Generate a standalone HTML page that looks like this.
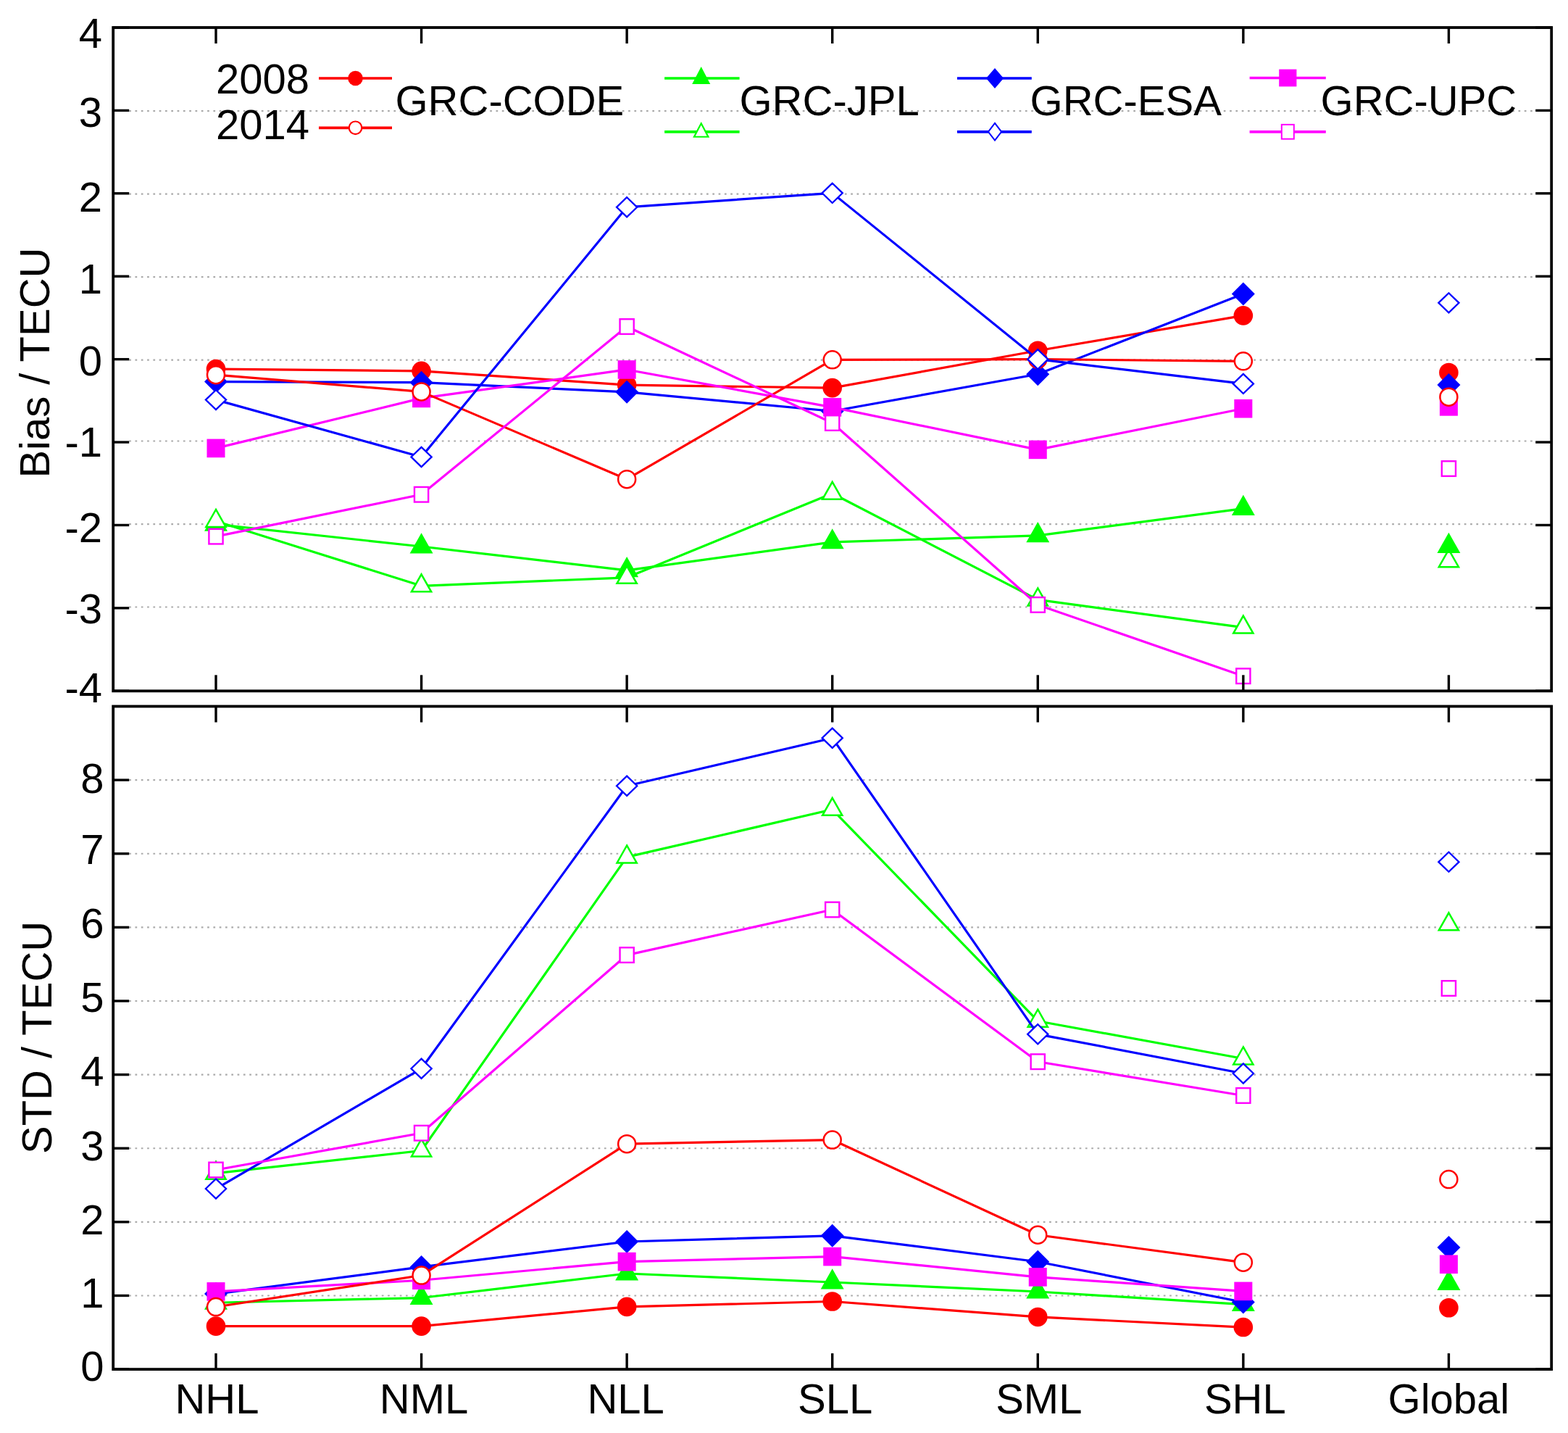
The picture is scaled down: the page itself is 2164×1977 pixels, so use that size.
<!DOCTYPE html>
<html><head><meta charset="utf-8"><title>Bias and STD of GIM differences</title><style>html,body{margin:0;padding:0;background:#fff;overflow:hidden;}svg{display:block;}text{font-family:"Liberation Sans",Arial,Helvetica,sans-serif;fill:#000;font-size:58px;}</style></head><body>
<svg width="2164" height="1977" viewBox="0 0 2164 1977">
<rect width="2164" height="1977" fill="#fff"/>
<line x1="178.2" y1="837.5" x2="2119.2" y2="837.5" stroke="#ababab" stroke-width="2.2" stroke-dasharray="2.7 5.6"/>
<line x1="178.2" y1="723.1" x2="2119.2" y2="723.1" stroke="#ababab" stroke-width="2.2" stroke-dasharray="2.7 5.6"/>
<line x1="178.2" y1="608.5" x2="2119.2" y2="608.5" stroke="#ababab" stroke-width="2.2" stroke-dasharray="2.7 5.6"/>
<line x1="178.2" y1="496.6" x2="2119.2" y2="496.6" stroke="#ababab" stroke-width="2.2" stroke-dasharray="2.7 5.6"/>
<line x1="178.2" y1="382.2" x2="2119.2" y2="382.2" stroke="#ababab" stroke-width="2.2" stroke-dasharray="2.7 5.6"/>
<line x1="178.2" y1="267.6" x2="2119.2" y2="267.6" stroke="#ababab" stroke-width="2.2" stroke-dasharray="2.7 5.6"/>
<line x1="178.2" y1="153.1" x2="2119.2" y2="153.1" stroke="#ababab" stroke-width="2.2" stroke-dasharray="2.7 5.6"/>
<polyline points="297.99,509.04 581.56,511.78 865.13,531.12 1148.7,535.12 1432.27,483.75 1715.84,435.35" fill="none" stroke="#ff0000" stroke-width="3.2" stroke-linejoin="round"/>
<circle cx="297.99" cy="509.04" r="13.3" fill="#ff0000"/>
<circle cx="581.56" cy="511.78" r="13.3" fill="#ff0000"/>
<circle cx="865.13" cy="531.12" r="13.3" fill="#ff0000"/>
<circle cx="1148.7" cy="535.12" r="13.3" fill="#ff0000"/>
<circle cx="1432.27" cy="483.75" r="13.3" fill="#ff0000"/>
<circle cx="1715.84" cy="435.35" r="13.3" fill="#ff0000"/>
<polyline points="297.99,723.33 581.56,753.99 865.13,786.83 1148.7,747.93 1432.27,738.89 1715.84,701.59" fill="none" stroke="#00ff00" stroke-width="3.2" stroke-linejoin="round"/>
<polygon points="297.99,704.53 313.97,732.73 282.01,732.73" fill="#00ff00"/>
<polygon points="581.56,735.19 597.54,763.39 565.58,763.39" fill="#00ff00"/>
<polygon points="865.13,768.03 881.11,796.23 849.15,796.23" fill="#00ff00"/>
<polygon points="1148.7,729.13 1164.68,757.33 1132.72,757.33" fill="#00ff00"/>
<polygon points="1432.27,720.09 1448.25,748.29 1416.29,748.29" fill="#00ff00"/>
<polygon points="1715.84,682.79 1731.82,710.99 1699.86,710.99" fill="#00ff00"/>
<polyline points="297.99,526.54 581.56,527.69 865.13,540.84 1148.7,567.27 1432.27,516.24 1715.84,405.49" fill="none" stroke="#0000ff" stroke-width="3.2" stroke-linejoin="round"/>
<polygon points="297.99,510.54 313.99,526.54 297.99,542.54 281.99,526.54" fill="#0000ff"/>
<polygon points="581.56,511.69 597.56,527.69 581.56,543.69 565.56,527.69" fill="#0000ff"/>
<polygon points="865.13,524.84 881.13,540.84 865.13,556.84 849.13,540.84" fill="#0000ff"/>
<polygon points="1148.7,551.27 1164.7,567.27 1148.7,583.27 1132.7,567.27" fill="#0000ff"/>
<polygon points="1432.27,500.24 1448.27,516.24 1432.27,532.24 1416.27,516.24" fill="#0000ff"/>
<polygon points="1715.84,389.49 1731.84,405.49 1715.84,421.49 1699.84,405.49" fill="#0000ff"/>
<polyline points="297.99,618.41 581.56,549.42 865.13,509.95 1148.7,561.89 1432.27,620.36 1715.84,563.73" fill="none" stroke="#ff00ff" stroke-width="3.2" stroke-linejoin="round"/>
<rect x="285.49" y="605.61" width="25" height="25.6" fill="#ff00ff"/>
<rect x="569.06" y="536.62" width="25" height="25.6" fill="#ff00ff"/>
<rect x="852.63" y="497.15" width="25" height="25.6" fill="#ff00ff"/>
<rect x="1136.2" y="549.09" width="25" height="25.6" fill="#ff00ff"/>
<rect x="1419.77" y="607.56" width="25" height="25.6" fill="#ff00ff"/>
<rect x="1703.34" y="550.93" width="25" height="25.6" fill="#ff00ff"/>
<polyline points="297.99,517.16 581.56,540.39 865.13,661.2 1148.7,496.34 1432.27,495.65 1715.84,498.28" fill="none" stroke="#ff0000" stroke-width="3.2" stroke-linejoin="round"/>
<circle cx="297.99" cy="517.16" r="12" fill="#fff" stroke="#ff0000" stroke-width="2.5"/>
<circle cx="581.56" cy="540.39" r="12" fill="#fff" stroke="#ff0000" stroke-width="2.5"/>
<circle cx="865.13" cy="661.2" r="12" fill="#fff" stroke="#ff0000" stroke-width="2.5"/>
<circle cx="1148.7" cy="496.34" r="12" fill="#fff" stroke="#ff0000" stroke-width="2.5"/>
<circle cx="1432.27" cy="495.65" r="12" fill="#fff" stroke="#ff0000" stroke-width="2.5"/>
<circle cx="1715.84" cy="498.28" r="12" fill="#fff" stroke="#ff0000" stroke-width="2.5"/>
<polyline points="297.99,718.98 581.56,808.34 865.13,796.78 1148.7,680.77 1432.27,827.45 1715.84,865.55" fill="none" stroke="#00ff00" stroke-width="3.2" stroke-linejoin="round"/>
<polygon points="297.99,702.98 311.59,726.98 284.39,726.98" fill="#fff" stroke="#00ff00" stroke-width="2.5"/>
<polygon points="581.56,792.34 595.16,816.34 567.96,816.34" fill="#fff" stroke="#00ff00" stroke-width="2.5"/>
<polygon points="865.13,780.78 878.73,804.78 851.53,804.78" fill="#fff" stroke="#00ff00" stroke-width="2.5"/>
<polygon points="1148.7,664.77 1162.3,688.77 1135.1,688.77" fill="#fff" stroke="#00ff00" stroke-width="2.5"/>
<polygon points="1432.27,811.45 1445.87,835.45 1418.67,835.45" fill="#fff" stroke="#00ff00" stroke-width="2.5"/>
<polygon points="1715.84,849.55 1729.44,873.55 1702.24,873.55" fill="#fff" stroke="#00ff00" stroke-width="2.5"/>
<polyline points="297.99,551.6 581.56,630.43 865.13,285.82 1148.7,266.37 1432.27,495.65 1715.84,529.4" fill="none" stroke="#0000ff" stroke-width="3.2" stroke-linejoin="round"/>
<polygon points="297.99,538 312.09,551.6 297.99,565.2 283.89,551.6" fill="#fff" stroke="#0000ff" stroke-width="2.3"/>
<polygon points="581.56,616.83 595.66,630.43 581.56,644.03 567.46,630.43" fill="#fff" stroke="#0000ff" stroke-width="2.3"/>
<polygon points="865.13,272.22 879.23,285.82 865.13,299.42 851.03,285.82" fill="#fff" stroke="#0000ff" stroke-width="2.3"/>
<polygon points="1148.7,252.77 1162.8,266.37 1148.7,279.97 1134.6,266.37" fill="#fff" stroke="#0000ff" stroke-width="2.3"/>
<polygon points="1432.27,482.05 1446.37,495.65 1432.27,509.25 1418.17,495.65" fill="#fff" stroke="#0000ff" stroke-width="2.3"/>
<polygon points="1715.84,515.8 1729.94,529.4 1715.84,543 1701.74,529.4" fill="#fff" stroke="#0000ff" stroke-width="2.3"/>
<polyline points="297.99,740.15 581.56,682.26 865.13,450.57 1148.7,583.52 1432.27,834.43 1715.84,932.71" fill="none" stroke="#ff00ff" stroke-width="3.2" stroke-linejoin="round"/>
<rect x="288.39" y="729.85" width="19.2" height="20.6" fill="#fff" stroke="#ff00ff" stroke-width="2.4"/>
<rect x="571.96" y="671.96" width="19.2" height="20.6" fill="#fff" stroke="#ff00ff" stroke-width="2.4"/>
<rect x="855.53" y="440.27" width="19.2" height="20.6" fill="#fff" stroke="#ff00ff" stroke-width="2.4"/>
<rect x="1139.1" y="573.22" width="19.2" height="20.6" fill="#fff" stroke="#ff00ff" stroke-width="2.4"/>
<rect x="1422.67" y="824.13" width="19.2" height="20.6" fill="#fff" stroke="#ff00ff" stroke-width="2.4"/>
<rect x="1706.24" y="922.41" width="19.2" height="20.6" fill="#fff" stroke="#ff00ff" stroke-width="2.4"/>
<circle cx="1999.41" cy="513.96" r="13.3" fill="#ff0000"/>
<polygon points="1999.41,758.24 2013.01,782.24 1985.81,782.24" fill="#fff" stroke="#00ff00" stroke-width="2.5"/>
<polygon points="1999.41,404.25 2013.51,417.85 1999.41,431.45 1985.31,417.85" fill="#fff" stroke="#0000ff" stroke-width="2.3"/>
<rect x="1989.81" y="636.26" width="19.2" height="20.6" fill="#fff" stroke="#ff00ff" stroke-width="2.4"/>
<polygon points="1999.41,515 2015.41,531 1999.41,547 1983.41,531" fill="#0000ff"/>
<polygon points="1999.41,734.74 2015.39,762.94 1983.43,762.94" fill="#00ff00"/>
<rect x="1986.91" y="548.07" width="25" height="25.6" fill="#ff00ff"/>
<circle cx="1999.41" cy="547.71" r="12" fill="#fff" stroke="#ff0000" stroke-width="2.5"/>
<rect x="156.2" y="38" width="1985" height="915.3" fill="none" stroke="#000" stroke-width="3.8"/>
<line x1="297.99" y1="38" x2="297.99" y2="60" stroke="#000" stroke-width="3.4"/>
<line x1="297.99" y1="953.3" x2="297.99" y2="931.3" stroke="#000" stroke-width="3.4"/>
<line x1="581.56" y1="38" x2="581.56" y2="60" stroke="#000" stroke-width="3.4"/>
<line x1="581.56" y1="953.3" x2="581.56" y2="931.3" stroke="#000" stroke-width="3.4"/>
<line x1="865.13" y1="38" x2="865.13" y2="60" stroke="#000" stroke-width="3.4"/>
<line x1="865.13" y1="953.3" x2="865.13" y2="931.3" stroke="#000" stroke-width="3.4"/>
<line x1="1148.7" y1="38" x2="1148.7" y2="60" stroke="#000" stroke-width="3.4"/>
<line x1="1148.7" y1="953.3" x2="1148.7" y2="931.3" stroke="#000" stroke-width="3.4"/>
<line x1="1432.27" y1="38" x2="1432.27" y2="60" stroke="#000" stroke-width="3.4"/>
<line x1="1432.27" y1="953.3" x2="1432.27" y2="931.3" stroke="#000" stroke-width="3.4"/>
<line x1="1715.84" y1="38" x2="1715.84" y2="60" stroke="#000" stroke-width="3.4"/>
<line x1="1715.84" y1="953.3" x2="1715.84" y2="931.3" stroke="#000" stroke-width="3.4"/>
<line x1="1999.41" y1="38" x2="1999.41" y2="60" stroke="#000" stroke-width="3.4"/>
<line x1="1999.41" y1="953.3" x2="1999.41" y2="931.3" stroke="#000" stroke-width="3.4"/>
<line x1="156.2" y1="953.3" x2="178.2" y2="953.3" stroke="#000" stroke-width="3.4"/>
<line x1="2141.2" y1="953.3" x2="2119.2" y2="953.3" stroke="#000" stroke-width="3.4"/>
<line x1="156.2" y1="838.89" x2="178.2" y2="838.89" stroke="#000" stroke-width="3.4"/>
<line x1="2141.2" y1="838.89" x2="2119.2" y2="838.89" stroke="#000" stroke-width="3.4"/>
<line x1="156.2" y1="724.47" x2="178.2" y2="724.47" stroke="#000" stroke-width="3.4"/>
<line x1="2141.2" y1="724.47" x2="2119.2" y2="724.47" stroke="#000" stroke-width="3.4"/>
<line x1="156.2" y1="610.06" x2="178.2" y2="610.06" stroke="#000" stroke-width="3.4"/>
<line x1="2141.2" y1="610.06" x2="2119.2" y2="610.06" stroke="#000" stroke-width="3.4"/>
<line x1="156.2" y1="495.65" x2="178.2" y2="495.65" stroke="#000" stroke-width="3.4"/>
<line x1="2141.2" y1="495.65" x2="2119.2" y2="495.65" stroke="#000" stroke-width="3.4"/>
<line x1="156.2" y1="381.24" x2="178.2" y2="381.24" stroke="#000" stroke-width="3.4"/>
<line x1="2141.2" y1="381.24" x2="2119.2" y2="381.24" stroke="#000" stroke-width="3.4"/>
<line x1="156.2" y1="266.82" x2="178.2" y2="266.82" stroke="#000" stroke-width="3.4"/>
<line x1="2141.2" y1="266.82" x2="2119.2" y2="266.82" stroke="#000" stroke-width="3.4"/>
<line x1="156.2" y1="152.41" x2="178.2" y2="152.41" stroke="#000" stroke-width="3.4"/>
<line x1="2141.2" y1="152.41" x2="2119.2" y2="152.41" stroke="#000" stroke-width="3.4"/>
<line x1="156.2" y1="38" x2="178.2" y2="38" stroke="#000" stroke-width="3.4"/>
<line x1="2141.2" y1="38" x2="2119.2" y2="38" stroke="#000" stroke-width="3.4"/>
<text x="141" y="968.8" text-anchor="end">-4</text>
<text x="141" y="859.5" text-anchor="end">-3</text>
<text x="141" y="747.5" text-anchor="end">-2</text>
<text x="141" y="629.5" text-anchor="end">-1</text>
<text x="141" y="518.1" text-anchor="end">0</text>
<text x="141" y="404.9" text-anchor="end">1</text>
<text x="141" y="291.6" text-anchor="end">2</text>
<text x="141" y="174.8" text-anchor="end">3</text>
<text x="141" y="65.6" text-anchor="end">4</text>
<text transform="translate(68.4 500.6) rotate(-90)" text-anchor="middle">Bias / TECU</text>
<line x1="178.2" y1="1787.48" x2="2119.2" y2="1787.48" stroke="#ababab" stroke-width="2.2" stroke-dasharray="2.7 5.6"/>
<line x1="178.2" y1="1685.86" x2="2119.2" y2="1685.86" stroke="#ababab" stroke-width="2.2" stroke-dasharray="2.7 5.6"/>
<line x1="178.2" y1="1584.23" x2="2119.2" y2="1584.23" stroke="#ababab" stroke-width="2.2" stroke-dasharray="2.7 5.6"/>
<line x1="178.2" y1="1482.61" x2="2119.2" y2="1482.61" stroke="#ababab" stroke-width="2.2" stroke-dasharray="2.7 5.6"/>
<line x1="178.2" y1="1380.99" x2="2119.2" y2="1380.99" stroke="#ababab" stroke-width="2.2" stroke-dasharray="2.7 5.6"/>
<line x1="178.2" y1="1279.37" x2="2119.2" y2="1279.37" stroke="#ababab" stroke-width="2.2" stroke-dasharray="2.7 5.6"/>
<line x1="178.2" y1="1177.74" x2="2119.2" y2="1177.74" stroke="#ababab" stroke-width="2.2" stroke-dasharray="2.7 5.6"/>
<line x1="178.2" y1="1076.12" x2="2119.2" y2="1076.12" stroke="#ababab" stroke-width="2.2" stroke-dasharray="2.7 5.6"/>
<polyline points="297.99,1829.65 581.56,1829.65 865.13,1802.92 1148.7,1795.51 1432.27,1816.95 1715.84,1831.07" fill="none" stroke="#ff0000" stroke-width="3.2" stroke-linejoin="round"/>
<circle cx="297.99" cy="1829.65" r="13.3" fill="#ff0000"/>
<circle cx="581.56" cy="1829.65" r="13.3" fill="#ff0000"/>
<circle cx="865.13" cy="1802.92" r="13.3" fill="#ff0000"/>
<circle cx="1148.7" cy="1795.51" r="13.3" fill="#ff0000"/>
<circle cx="1432.27" cy="1816.95" r="13.3" fill="#ff0000"/>
<circle cx="1715.84" cy="1831.07" r="13.3" fill="#ff0000"/>
<polyline points="297.99,1797.23 581.56,1790.53 865.13,1756.99 1148.7,1768.98 1432.27,1781.99 1715.84,1799.67" fill="none" stroke="#00ff00" stroke-width="3.2" stroke-linejoin="round"/>
<polygon points="297.99,1778.43 313.97,1806.63 282.01,1806.63" fill="#00ff00"/>
<polygon points="581.56,1771.73 597.54,1799.93 565.58,1799.93" fill="#00ff00"/>
<polygon points="865.13,1738.19 881.11,1766.39 849.15,1766.39" fill="#00ff00"/>
<polygon points="1148.7,1750.18 1164.68,1778.38 1132.72,1778.38" fill="#00ff00"/>
<polygon points="1432.27,1763.19 1448.25,1791.39 1416.29,1791.39" fill="#00ff00"/>
<polygon points="1715.84,1780.87 1731.82,1809.07 1699.86,1809.07" fill="#00ff00"/>
<polyline points="297.99,1785.04 581.56,1747.95 865.13,1712.99 1148.7,1704.86 1432.27,1740.73 1715.84,1796.52" fill="none" stroke="#0000ff" stroke-width="3.2" stroke-linejoin="round"/>
<polygon points="297.99,1769.04 313.99,1785.04 297.99,1801.04 281.99,1785.04" fill="#0000ff"/>
<polygon points="581.56,1731.95 597.56,1747.95 581.56,1763.95 565.56,1747.95" fill="#0000ff"/>
<polygon points="865.13,1696.99 881.13,1712.99 865.13,1728.99 849.13,1712.99" fill="#0000ff"/>
<polygon points="1148.7,1688.86 1164.7,1704.86 1148.7,1720.86 1132.7,1704.86" fill="#0000ff"/>
<polygon points="1432.27,1724.73 1448.27,1740.73 1432.27,1756.73 1416.27,1740.73" fill="#0000ff"/>
<polygon points="1715.84,1780.52 1731.84,1796.52 1715.84,1812.52 1699.84,1796.52" fill="#0000ff"/>
<polyline points="297.99,1781.89 581.56,1766.24 865.13,1740.63 1148.7,1733.62 1432.27,1761.87 1715.84,1781.38" fill="none" stroke="#ff00ff" stroke-width="3.2" stroke-linejoin="round"/>
<rect x="285.49" y="1769.09" width="25" height="25.6" fill="#ff00ff"/>
<rect x="569.06" y="1753.44" width="25" height="25.6" fill="#ff00ff"/>
<rect x="852.63" y="1727.83" width="25" height="25.6" fill="#ff00ff"/>
<rect x="1136.2" y="1720.82" width="25" height="25.6" fill="#ff00ff"/>
<rect x="1419.77" y="1749.07" width="25" height="25.6" fill="#ff00ff"/>
<rect x="1703.34" y="1768.58" width="25" height="25.6" fill="#ff00ff"/>
<polyline points="297.99,1803.03 581.56,1759.53 865.13,1578.14 1148.7,1572.55 1432.27,1703.74 1715.84,1741.65" fill="none" stroke="#ff0000" stroke-width="3.2" stroke-linejoin="round"/>
<circle cx="297.99" cy="1803.03" r="12" fill="#fff" stroke="#ff0000" stroke-width="2.5"/>
<circle cx="581.56" cy="1759.53" r="12" fill="#fff" stroke="#ff0000" stroke-width="2.5"/>
<circle cx="865.13" cy="1578.14" r="12" fill="#fff" stroke="#ff0000" stroke-width="2.5"/>
<circle cx="1148.7" cy="1572.55" r="12" fill="#fff" stroke="#ff0000" stroke-width="2.5"/>
<circle cx="1432.27" cy="1703.74" r="12" fill="#fff" stroke="#ff0000" stroke-width="2.5"/>
<circle cx="1715.84" cy="1741.65" r="12" fill="#fff" stroke="#ff0000" stroke-width="2.5"/>
<polyline points="297.99,1618.68 581.56,1587.49 865.13,1182.42 1148.7,1116.77 1432.27,1408.73 1715.84,1460.46" fill="none" stroke="#00ff00" stroke-width="3.2" stroke-linejoin="round"/>
<polygon points="297.99,1602.68 311.59,1626.68 284.39,1626.68" fill="#fff" stroke="#00ff00" stroke-width="2.5"/>
<polygon points="581.56,1571.49 595.16,1595.49 567.96,1595.49" fill="#fff" stroke="#00ff00" stroke-width="2.5"/>
<polygon points="865.13,1166.42 878.73,1190.42 851.53,1190.42" fill="#fff" stroke="#00ff00" stroke-width="2.5"/>
<polygon points="1148.7,1100.77 1162.3,1124.77 1135.1,1124.77" fill="#fff" stroke="#00ff00" stroke-width="2.5"/>
<polygon points="1432.27,1392.73 1445.87,1416.73 1418.67,1416.73" fill="#fff" stroke="#00ff00" stroke-width="2.5"/>
<polygon points="1715.84,1444.46 1729.44,1468.46 1702.24,1468.46" fill="#fff" stroke="#00ff00" stroke-width="2.5"/>
<polyline points="297.99,1640.02 581.56,1474.28 865.13,1084.25 1148.7,1018.2 1432.27,1426.82 1715.84,1480.99" fill="none" stroke="#0000ff" stroke-width="3.2" stroke-linejoin="round"/>
<polygon points="297.99,1626.42 312.09,1640.02 297.99,1653.62 283.89,1640.02" fill="#fff" stroke="#0000ff" stroke-width="2.3"/>
<polygon points="581.56,1460.68 595.66,1474.28 581.56,1487.88 567.46,1474.28" fill="#fff" stroke="#0000ff" stroke-width="2.3"/>
<polygon points="865.13,1070.65 879.23,1084.25 865.13,1097.85 851.03,1084.25" fill="#fff" stroke="#0000ff" stroke-width="2.3"/>
<polygon points="1148.7,1004.6 1162.8,1018.2 1148.7,1031.8 1134.6,1018.2" fill="#fff" stroke="#0000ff" stroke-width="2.3"/>
<polygon points="1432.27,1413.22 1446.37,1426.82 1432.27,1440.42 1418.17,1426.82" fill="#fff" stroke="#0000ff" stroke-width="2.3"/>
<polygon points="1715.84,1467.39 1729.94,1480.99 1715.84,1494.59 1701.74,1480.99" fill="#fff" stroke="#0000ff" stroke-width="2.3"/>
<polyline points="297.99,1614.01 581.56,1563.2 865.13,1317.58 1148.7,1254.98 1432.27,1464.73 1715.84,1511.47" fill="none" stroke="#ff00ff" stroke-width="3.2" stroke-linejoin="round"/>
<rect x="288.39" y="1603.71" width="19.2" height="20.6" fill="#fff" stroke="#ff00ff" stroke-width="2.4"/>
<rect x="571.96" y="1552.9" width="19.2" height="20.6" fill="#fff" stroke="#ff00ff" stroke-width="2.4"/>
<rect x="855.53" y="1307.28" width="19.2" height="20.6" fill="#fff" stroke="#ff00ff" stroke-width="2.4"/>
<rect x="1139.1" y="1244.68" width="19.2" height="20.6" fill="#fff" stroke="#ff00ff" stroke-width="2.4"/>
<rect x="1422.67" y="1454.43" width="19.2" height="20.6" fill="#fff" stroke="#ff00ff" stroke-width="2.4"/>
<rect x="1706.24" y="1501.17" width="19.2" height="20.6" fill="#fff" stroke="#ff00ff" stroke-width="2.4"/>
<circle cx="1999.41" cy="1804.25" r="13.3" fill="#ff0000"/>
<polygon points="1999.41,1259.3 2013.01,1283.3 1985.81,1283.3" fill="#fff" stroke="#00ff00" stroke-width="2.5"/>
<polygon points="1999.41,1175.53 2013.51,1189.13 1999.41,1202.73 1985.31,1189.13" fill="#fff" stroke="#0000ff" stroke-width="2.3"/>
<rect x="1989.81" y="1353.21" width="19.2" height="20.6" fill="#fff" stroke="#ff00ff" stroke-width="2.4"/>
<polygon points="1999.41,1705.02 2015.41,1721.02 1999.41,1737.02 1983.41,1721.02" fill="#0000ff"/>
<polygon points="1999.41,1751.71 2015.39,1779.91 1983.43,1779.91" fill="#00ff00"/>
<rect x="1986.91" y="1731.49" width="25" height="25.6" fill="#ff00ff"/>
<circle cx="1999.41" cy="1627.12" r="12" fill="#fff" stroke="#ff0000" stroke-width="2.5"/>
<rect x="156.2" y="974.5" width="1985" height="914.6" fill="none" stroke="#000" stroke-width="3.8"/>
<line x1="297.99" y1="974.5" x2="297.99" y2="996.5" stroke="#000" stroke-width="3.4"/>
<line x1="297.99" y1="1889.1" x2="297.99" y2="1867.1" stroke="#000" stroke-width="3.4"/>
<line x1="581.56" y1="974.5" x2="581.56" y2="996.5" stroke="#000" stroke-width="3.4"/>
<line x1="581.56" y1="1889.1" x2="581.56" y2="1867.1" stroke="#000" stroke-width="3.4"/>
<line x1="865.13" y1="974.5" x2="865.13" y2="996.5" stroke="#000" stroke-width="3.4"/>
<line x1="865.13" y1="1889.1" x2="865.13" y2="1867.1" stroke="#000" stroke-width="3.4"/>
<line x1="1148.7" y1="974.5" x2="1148.7" y2="996.5" stroke="#000" stroke-width="3.4"/>
<line x1="1148.7" y1="1889.1" x2="1148.7" y2="1867.1" stroke="#000" stroke-width="3.4"/>
<line x1="1432.27" y1="974.5" x2="1432.27" y2="996.5" stroke="#000" stroke-width="3.4"/>
<line x1="1432.27" y1="1889.1" x2="1432.27" y2="1867.1" stroke="#000" stroke-width="3.4"/>
<line x1="1715.84" y1="974.5" x2="1715.84" y2="996.5" stroke="#000" stroke-width="3.4"/>
<line x1="1715.84" y1="1889.1" x2="1715.84" y2="1867.1" stroke="#000" stroke-width="3.4"/>
<line x1="1999.41" y1="974.5" x2="1999.41" y2="996.5" stroke="#000" stroke-width="3.4"/>
<line x1="1999.41" y1="1889.1" x2="1999.41" y2="1867.1" stroke="#000" stroke-width="3.4"/>
<line x1="156.2" y1="1889.1" x2="178.2" y2="1889.1" stroke="#000" stroke-width="3.4"/>
<line x1="2141.2" y1="1889.1" x2="2119.2" y2="1889.1" stroke="#000" stroke-width="3.4"/>
<line x1="156.2" y1="1787.48" x2="178.2" y2="1787.48" stroke="#000" stroke-width="3.4"/>
<line x1="2141.2" y1="1787.48" x2="2119.2" y2="1787.48" stroke="#000" stroke-width="3.4"/>
<line x1="156.2" y1="1685.86" x2="178.2" y2="1685.86" stroke="#000" stroke-width="3.4"/>
<line x1="2141.2" y1="1685.86" x2="2119.2" y2="1685.86" stroke="#000" stroke-width="3.4"/>
<line x1="156.2" y1="1584.23" x2="178.2" y2="1584.23" stroke="#000" stroke-width="3.4"/>
<line x1="2141.2" y1="1584.23" x2="2119.2" y2="1584.23" stroke="#000" stroke-width="3.4"/>
<line x1="156.2" y1="1482.61" x2="178.2" y2="1482.61" stroke="#000" stroke-width="3.4"/>
<line x1="2141.2" y1="1482.61" x2="2119.2" y2="1482.61" stroke="#000" stroke-width="3.4"/>
<line x1="156.2" y1="1380.99" x2="178.2" y2="1380.99" stroke="#000" stroke-width="3.4"/>
<line x1="2141.2" y1="1380.99" x2="2119.2" y2="1380.99" stroke="#000" stroke-width="3.4"/>
<line x1="156.2" y1="1279.37" x2="178.2" y2="1279.37" stroke="#000" stroke-width="3.4"/>
<line x1="2141.2" y1="1279.37" x2="2119.2" y2="1279.37" stroke="#000" stroke-width="3.4"/>
<line x1="156.2" y1="1177.74" x2="178.2" y2="1177.74" stroke="#000" stroke-width="3.4"/>
<line x1="2141.2" y1="1177.74" x2="2119.2" y2="1177.74" stroke="#000" stroke-width="3.4"/>
<line x1="156.2" y1="1076.12" x2="178.2" y2="1076.12" stroke="#000" stroke-width="3.4"/>
<line x1="2141.2" y1="1076.12" x2="2119.2" y2="1076.12" stroke="#000" stroke-width="3.4"/>
<text x="143.5" y="1905.3" text-anchor="end">0</text>
<text x="143.5" y="1803.7" text-anchor="end">1</text>
<text x="143.5" y="1702.5" text-anchor="end">2</text>
<text x="143.5" y="1601.3" text-anchor="end">3</text>
<text x="143.5" y="1497.6" text-anchor="end">4</text>
<text x="143.5" y="1395.8" text-anchor="end">5</text>
<text x="143.5" y="1293.7" text-anchor="end">6</text>
<text x="143.5" y="1191.6" text-anchor="end">7</text>
<text x="143.5" y="1093.7" text-anchor="end">8</text>
<text transform="translate(70.6 1431.4) rotate(-90)" text-anchor="middle">STD / TECU</text>
<text x="299.49" y="1950" text-anchor="middle">NHL</text>
<text x="585.06" y="1950" text-anchor="middle">NML</text>
<text x="863.63" y="1950" text-anchor="middle">NLL</text>
<text x="1152.7" y="1950" text-anchor="middle">SLL</text>
<text x="1433.77" y="1950" text-anchor="middle">SML</text>
<text x="1718.34" y="1950" text-anchor="middle">SHL</text>
<text x="1999.41" y="1950" text-anchor="middle">Global</text>
<text x="298" y="129">2008</text>
<text x="298" y="191.5">2014</text>
<line x1="440" y1="108" x2="541" y2="108" stroke="#ff0000" stroke-width="3.7"/>
<circle cx="490.5" cy="108" r="10.3" fill="#ff0000"/>
<line x1="440" y1="176.3" x2="541" y2="176.3" stroke="#ff0000" stroke-width="3.7"/>
<circle cx="490.5" cy="176.3" r="8.8" fill="#fff" stroke="#ff0000" stroke-width="2.2"/>
<text x="545.5" y="159">GRC-CODE</text>
<line x1="917.1" y1="108" x2="1020.6" y2="108" stroke="#00ff00" stroke-width="3.7"/>
<polygon points="967.7,92.1 980.26,115.95 955.14,115.95" fill="#00ff00"/>
<line x1="917.1" y1="181.8" x2="1020.6" y2="181.8" stroke="#00ff00" stroke-width="3.7"/>
<polygon points="967.7,170.3 977.42,188.75 957.98,188.75" fill="#fff" stroke="#00ff00" stroke-width="2.2"/>
<text x="1020.5" y="159">GRC-JPL</text>
<line x1="1321" y1="108" x2="1423.8" y2="108" stroke="#0000ff" stroke-width="3.7"/>
<polygon points="1373,94.1 1385.1,108 1373,121.9 1360.9,108" fill="#0000ff"/>
<line x1="1321" y1="181.8" x2="1423.8" y2="181.8" stroke="#0000ff" stroke-width="3.7"/>
<polygon points="1373,169.9 1382.1,181.8 1373,193.7 1363.9,181.8" fill="#fff" stroke="#0000ff" stroke-width="2"/>
<text x="1421.6" y="159">GRC-ESA</text>
<line x1="1724.6" y1="107.5" x2="1829.8" y2="107.5" stroke="#ff00ff" stroke-width="3.7"/>
<rect x="1765.2" y="95.6" width="24.2" height="23.8" fill="#ff00ff"/>
<line x1="1724.6" y1="181.8" x2="1829.8" y2="181.8" stroke="#ff00ff" stroke-width="3.7"/>
<rect x="1768.8" y="171.9" width="17" height="19.8" fill="#fff" stroke="#ff00ff" stroke-width="2"/>
<text x="1822.6" y="159">GRC-UPC</text>
</svg></body></html>
